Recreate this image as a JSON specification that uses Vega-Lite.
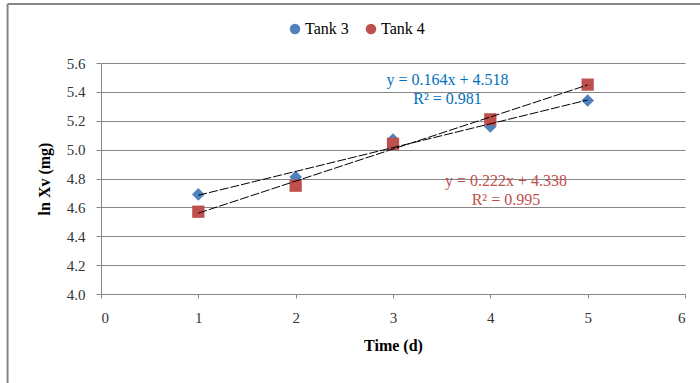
{
  "$schema": "https://vega.github.io/schema/vega-lite/v6.json",
  "width": 584,
  "height": 231,
  "autosize": "none",
  "padding": {"left": 101, "top": 63, "right": 15, "bottom": 89},
  "background": "white",
  "config": {
    "view": {"stroke": null},
    "font": "Liberation Serif",
    "style": {"guide-label": {"font": "Liberation Serif"}, "guide-title": {"font": "Liberation Serif"}},
    "axis": {"labelFont": "Liberation Serif", "titleFont": "Liberation Serif", "labelColor": "#333333", "titleColor": "black", "domainColor": "#868686", "tickColor": "#868686", "gridColor": "#868686", "labelFontSize": 15, "titleFontSize": 16},
    "legend": {"labelFont": "Liberation Serif"}
  },
  "datasets": {
    "points": [
      {"time": 1, "lnxv": 4.69, "series": "Tank 3"},
      {"time": 2, "lnxv": 4.81, "series": "Tank 3"},
      {"time": 3, "lnxv": 5.07, "series": "Tank 3"},
      {"time": 4, "lnxv": 5.16, "series": "Tank 3"},
      {"time": 5, "lnxv": 5.34, "series": "Tank 3"},
      {"time": 1, "lnxv": 4.57, "series": "Tank 4"},
      {"time": 2, "lnxv": 4.75, "series": "Tank 4"},
      {"time": 3, "lnxv": 5.04, "series": "Tank 4"},
      {"time": 4, "lnxv": 5.21, "series": "Tank 4"},
      {"time": 5, "lnxv": 5.45, "series": "Tank 4"}
    ],
    "labels": [
      {"time": 3.56, "lnxv": 5.485, "label": "y = 0.164x + 4.518", "series": "Tank 3"},
      {"time": 3.56, "lnxv": 5.353, "label": "R² = 0.981", "series": "Tank 3"},
      {"time": 4.16, "lnxv": 4.781, "label": "y = 0.222x + 4.338", "series": "Tank 4"},
      {"time": 4.16, "lnxv": 4.652, "label": "R² = 0.995", "series": "Tank 4"}
    ]
  },
  "layer": [
    {
      "data": {"name": "points"},
      "mark": {"type": "point", "filled": true, "opacity": 1},
      "encoding": {
        "x": {"field": "time", "type": "quantitative", "scale": {"domain": [0, 6], "nice": false, "zero": false},
              "axis": {"title": "Time (d)", "titleFontWeight": "bold", "labelFont": "Times New Roman, Liberation Serif, serif", "titleFont": "Liberation Serif", "tickCount": 6, "grid": false, "tickSize": 4, "labelPadding": 12, "titlePadding": 12, "format": "d"}},
        "y": {"field": "lnxv", "type": "quantitative", "scale": {"domain": [4, 5.6], "nice": false, "zero": false},
              "axis": {"title": "ln Xv (mg)", "titleFontWeight": "bold", "labelFont": "Times New Roman, Liberation Serif, serif", "titleFont": "Liberation Serif", "tickCount": 9, "format": ".1f", "grid": true, "labelOverlap": false, "tickSize": 5, "labelPadding": 11, "titlePadding": 14}},
        "color": {"field": "series", "type": "nominal", "scale": {"domain": ["Tank 3", "Tank 4"], "range": ["#4F81BD", "#C0504D"]},
                  "legend": {"title": null, "orient": "none", "legendX": 186, "legendY": -42, "direction": "horizontal", "labelFont": "Times New Roman, Liberation Serif, serif", "labelFontSize": 16, "labelColor": "black", "symbolSize": 110, "columnPadding": 14, "labelOffset": 2}},
        "shape": {"field": "series", "type": "nominal", "scale": {"domain": ["Tank 3", "Tank 4"], "range": ["diamond", "square"]}},
        "size": {"field": "series", "type": "nominal", "scale": {"domain": ["Tank 3", "Tank 4"], "range": [160, 150]}, "legend": null}
      }
    },
    {
      "data": {"name": "points"},
      "transform": [{"regression": "lnxv", "on": "time", "groupby": ["series"], "method": "linear", "extent": [1, 5]}],
      "mark": {"type": "line", "stroke": "black", "strokeWidth": 1, "strokeDash": [9, 2]},
      "encoding": {
        "x": {"field": "time", "type": "quantitative"},
        "y": {"field": "lnxv", "type": "quantitative"},
        "detail": {"field": "series", "type": "nominal"}
      }
    },
    {
      "data": {"name": "labels"},
      "mark": {"type": "text", "font": "Liberation Serif", "fontSize": 16, "align": "center", "baseline": "middle"},
      "encoding": {
        "x": {"field": "time", "type": "quantitative"},
        "y": {"field": "lnxv", "type": "quantitative"},
        "text": {"field": "label"},
        "color": {"field": "series", "type": "nominal", "scale": {"domain": ["Tank 3", "Tank 4"], "range": ["#0070C0", "#C0504D"]}, "legend": null}
      }
    },
    {
      "data": {"values": [{}]},
      "mark": {"type": "rule", "stroke": "#868686", "strokeWidth": 2},
      "encoding": {
        "x": {"datum": -0.96, "type": "quantitative"},
        "y": {"datum": 6.009, "type": "quantitative"},
        "y2": {"datum": 3.3}
      }
    },
    {
      "data": {"values": [{}]},
      "mark": {"type": "rule", "stroke": "#868686", "strokeWidth": 2},
      "encoding": {
        "x": {"datum": -0.96, "type": "quantitative"},
        "x2": {"datum": 6.2},
        "y": {"datum": 6.009, "type": "quantitative"}
      }
    }
  ],
  "resolve": {"scale": {"color": "independent"}}
}
